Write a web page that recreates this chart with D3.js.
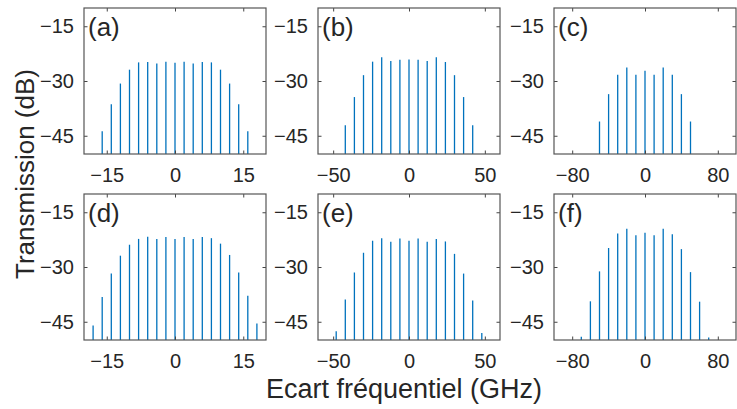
<!DOCTYPE html>
<html>
<head>
<meta charset="utf-8">
<script src="https://cdn.jsdelivr.net/npm/d3@7"></script>
<style>
  body { margin: 0; background: #fff; }
  text { font-family: Arial, "Liberation Sans", sans-serif; fill: #262626; }
</style>
</head>
<body>
<svg id="fig" width="737" height="409"></svg>
<script>
// panel labels and x ranges / ticks
const panelNames = ['(a)', '(b)', '(c)', '(d)', '(e)', '(f)'];
const xDomains = [[-20, 20], [-60, 60], [-100, 100], [-20, 20], [-60, 60], [-100, 100]];
const xTickVals = [[-15, 0, 15], [-50, 0, 50], [-80, 0, 80], [-15, 0, 15], [-50, 0, 50], [-80, 0, 80]];
const yTickVals = [-15, -30, -45];

// comb line frequencies (GHz) and levels (dB)
const freqA = [-16, -14, -12, -10, -8, -6, -4, -2, 0, 2, 4, 6, 8, 10, 12, 14, 16];
const levelA = [-43.8, -36.4, -30.7, -26.9, -24.9, -24.8, -25.2, -24.7, -25.0, -24.7, -25.2, -24.8, -24.9, -26.9, -30.7, -36.4, -43.8];

const freqB = [-42, -36, -30, -24, -18, -12, -6, 0, 6, 12, 18, 24, 30, 36, 42];
const levelB = [-42.1, -34.4, -28.4, -24.7, -23.5, -24.5, -24.2, -24.1, -24.2, -24.5, -23.5, -24.8, -28.4, -34.4, -42.1];

const freqC = [-50, -40, -30, -20, -10, 0, 10, 20, 30, 40, 50];
const levelC = [-41.1, -33.6, -28.3, -26.3, -28.3, -27.2, -28.3, -26.3, -28.3, -33.6, -41.1];

const freqD = [-18, -16, -14, -12, -10, -8, -6, -4, -2, 0, 2, 4, 6, 8, 10, 12, 14, 16, 18];
const levelD = [-46.0, -38.2, -31.8, -26.9, -23.9, -22.3, -21.7, -22.3, -21.8, -22.3, -21.8, -22.3, -21.8, -22.1, -23.6, -26.7, -31.5, -37.9, -45.5];

const freqE = [-48, -42, -36, -30, -24, -18, -12, -6, 0, 6, 12, 18, 24, 30, 36, 42, 48];
const levelE = [-47.6, -38.9, -31.5, -26.1, -22.8, -22.1, -23.1, -22.2, -22.8, -22.2, -23.1, -22.3, -23.0, -26.4, -31.8, -39.2, -48.1];

const freqF = [-70, -60, -50, -40, -30, -20, -10, 0, 10, 20, 30, 40, 50, 60, 70];
const levelF = [-49.1, -39.4, -31.2, -24.8, -20.8, -19.5, -21.3, -20.6, -21.3, -19.5, -21.0, -25.1, -31.4, -39.5, -49.3];

const freqs = [freqA, freqB, freqC, freqD, freqE, freqF];
const levels = [levelA, levelB, levelC, levelD, levelE, levelF];

const svg = d3.select('#fig');
const lefts = [84, 318, 554];
const tops = [8, 194];
const pw = 182, ph = 146;
const tickLen = 3.5;
const minus = s => String(s).replace('-', '\u2212');

panelNames.forEach((name, i) => {
  const col = i % 3, row = Math.floor(i / 3);
  const g = svg.append('g').attr('transform', `translate(${lefts[col]},${tops[row]})`);

  const x = d3.scaleLinear().domain(xDomains[i]).range([0, pw]);
  const y = d3.scaleLinear().domain([-50, -10]).range([ph, 0]);

  const data = freqs[i].map((f, k) => ({ f: f, v: levels[i][k] }));

  // stems
  g.selectAll('.stem')
    .data(data)
    .enter()
    .append('line')
    .attr('x1', d => x(d.f))
    .attr('x2', d => x(d.f))
    .attr('y1', y(-50))
    .attr('y2', d => y(d.v))
    .attr('stroke', '#0072BD')
    .attr('stroke-width', 1.3);

  // inward ticks on all sides
  const bottomAx = d3.axisBottom(x).tickValues(xTickVals[i]).tickSizeInner(-tickLen).tickSizeOuter(0).tickFormat(minus);
  const topAx = d3.axisTop(x).tickValues(xTickVals[i]).tickSizeInner(-tickLen).tickSizeOuter(0).tickFormat('');
  const leftAx = d3.axisLeft(y).tickValues(yTickVals).tickSizeInner(-tickLen).tickSizeOuter(0).tickFormat(minus);
  const rightAx = d3.axisRight(y).tickValues(yTickVals).tickSizeInner(-tickLen).tickSizeOuter(0).tickFormat('');

  const bx = g.append('g').attr('transform', `translate(0,${ph})`).call(bottomAx);
  bx.selectAll('text').attr('y', 14).attr('dy', '0.71em').style('font-size', '20px');
  g.append('g').call(topAx);
  const ly = g.append('g').call(leftAx);
  ly.selectAll('text').attr('x', -10).style('font-size', '20px');
  g.append('g').attr('transform', `translate(${pw},0)`).call(rightAx);

  g.selectAll('.domain').remove();
  g.selectAll('.tick line').attr('stroke', '#444').attr('stroke-width', 1);
  g.selectAll('.tick text').attr('fill', '#262626').style('font-family', 'Arial, "Liberation Sans", sans-serif');

  // box
  g.append('rect')
    .attr('x', 0).attr('y', 0)
    .attr('width', pw).attr('height', ph)
    .attr('fill', 'none')
    .attr('stroke', '#555')
    .attr('stroke-width', 1.2);

  g.append('text')
    .attr('x', 4)
    .attr('y', 28)
    .style('font-size', '26px')
    .text(name);
});

svg.append('text')
  .attr('transform', 'translate(34,174) rotate(-90)')
  .attr('text-anchor', 'middle')
  .style('font-size', '26px')
  .text('Transmission (dB)');

svg.append('text')
  .attr('x', 266)
  .attr('y', 398)
  .style('font-size', '27px')
  .text('Ecart fréquentiel (GHz)');
</script>
</body>
</html>
